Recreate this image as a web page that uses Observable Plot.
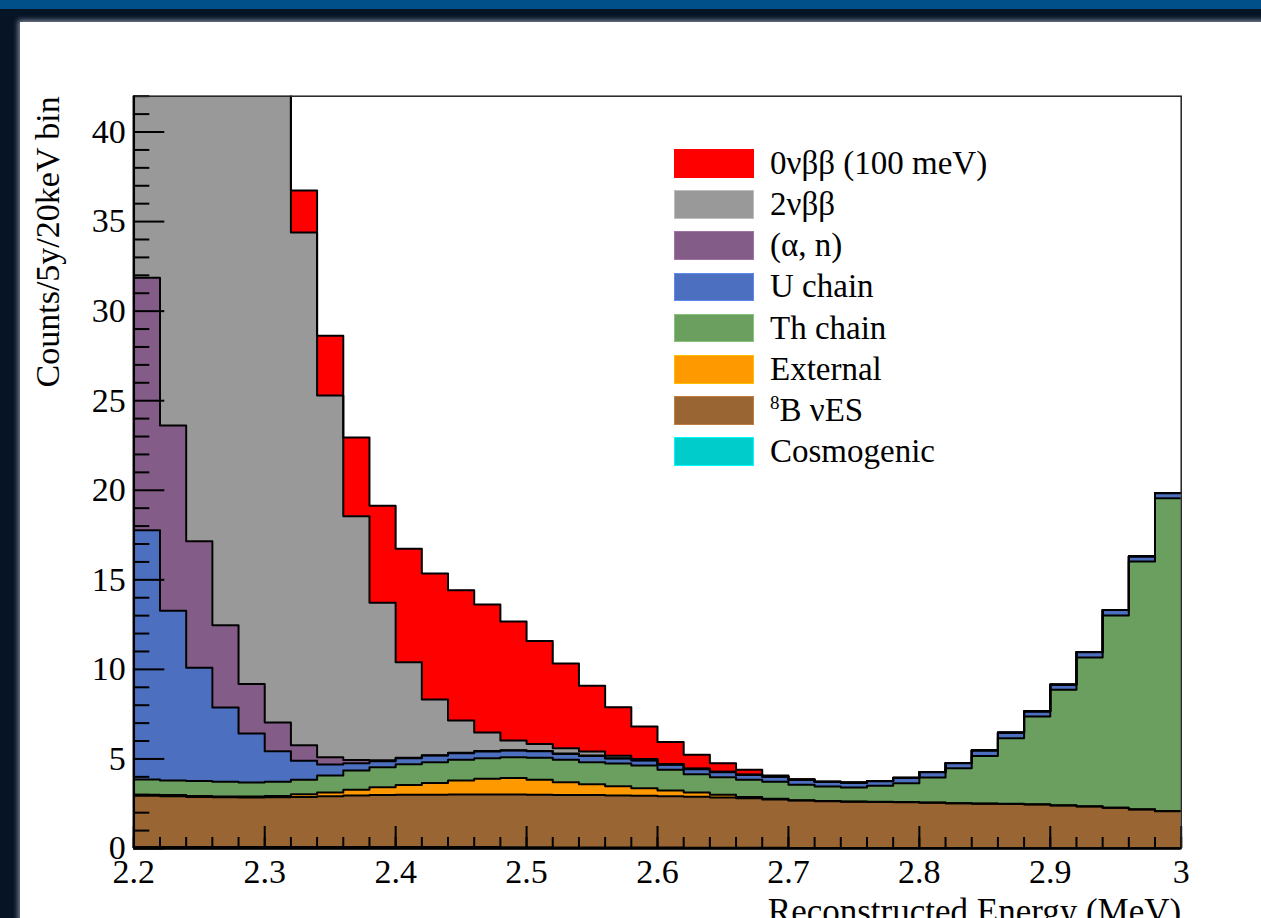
<!DOCTYPE html>
<html>
<head>
<meta charset="utf-8">
<script src="https://cdn.jsdelivr.net/npm/d3@7"></script>
<script src="https://cdn.jsdelivr.net/npm/@observablehq/plot@0.6"></script>
<style>
html, body { margin: 0; padding: 0; width: 1261px; height: 918px; overflow: hidden; background: #071426; }
#topbar { position: absolute; left: 0; top: 0; width: 1261px; height: 9px; background: #01508a; }
#panel { position: absolute; left: 20px; top: 22px; width: 1262px; height: 920px; background: #ffffff; box-shadow: 0 0 5px 2px rgba(170,180,195,0.7); }
#chart { position: absolute; left: 0; top: 0; }
#legend { position: absolute; left: 674px; top: 142.7px; font-family: "Liberation Serif", serif; font-size: 33px; color: #000; }
.row { display: flex; align-items: center; height: 41.2px; white-space: nowrap; }
.sw { width: 80px; height: 28.7px; margin-right: 16px; box-sizing: border-box; }
.sup { font-size: 19px; position: relative; top: -12px; }
</style>
</head>
<body>
<div id="topbar"></div>
<div id="panel"></div>
<div id="chart"></div>
<div id="legend"></div>
<script>
// ---- categories / series ----
const series = ["Cosmogenic", "8B νES", "External", "Th chain", "U chain", "(α, n)", "2νββ", "0νββ (100 meV)"];
const colors = ["#00cccc", "#996633", "#ff9900", "#6b9f5f", "#4d6fc0", "#835c88", "#999999", "#ff0000"];
const legendOrder = ["0νββ (100 meV)", "2νββ", "(α, n)", "U chain", "Th chain", "External", "8B νES", "Cosmogenic"];

// ---- binning: 40 bins of 20 keV from 2.2 to 3.0 MeV ----
const binLow = 2.2, binWidth = 0.02, nBins = 40;

// ---- series values (counts / 5y / 20 keV bin) ----
const cosmogenic = [0.08,0.08,0.08,0.08,0.08,0.08,0.08,0.08,0.08,0.08,
                    0.08,0.08,0.08,0.08,0.07,0.07,0.06,0.06,0.05,0.05,
                    0.05,0.04,0.04,0.04,0.04,0.03,0.03,0.03,0.03,0.03,
                    0.03,0.03,0.02,0.02,0.02,0.02,0.02,0.02,0.02,0.02];
const b8nues = [2.87,2.84,2.80,2.78,2.77,2.78,2.80,2.84,2.88,2.90,
                2.92,2.92,2.93,2.93,2.94,2.93,2.93,2.92,2.91,2.89,
                2.87,2.85,2.81,2.76,2.70,2.65,2.61,2.58,2.57,2.55,
                2.53,2.49,2.48,2.47,2.44,2.38,2.33,2.25,2.16,2.06];
const external = [0.05,0.06,0.05,0.05,0.05,0.07,0.15,0.21,0.32,0.44,
                  0.55,0.66,0.79,0.89,0.92,0.84,0.71,0.61,0.51,0.42,
                  0.32,0.24,0.15,0.07,0.04,0.02,0.01,0.01,0.01,0.01,
                  0.01,0.01,0.01,0.01,0.01,0.01,0.01,0.01,0.01,0.01];
const thChain = [0.85,0.82,0.84,0.81,0.78,0.79,0.81,0.95,1.07,1.12,
                 1.15,1.16,1.15,1.14,1.17,1.22,1.25,1.23,1.27,1.27,
                 1.15,1.02,0.98,0.97,0.94,0.86,0.81,0.78,0.89,1.05,
                 1.39,1.95,2.66,3.66,4.90,6.45,8.31,10.73,13.83,17.47];
const uChain = [13.92,9.47,6.32,4.15,2.74,1.71,1.06,0.61,0.41,0.33,
                0.34,0.37,0.37,0.38,0.37,0.37,0.33,0.35,0.28,0.28,
                0.28,0.28,0.28,0.26,0.28,0.27,0.26,0.27,0.26,0.30,
                0.30,0.28,0.30,0.30,0.28,0.28,0.29,0.30,0.28,0.28];
const alphaN = [14.09,10.35,7.07,4.60,2.77,1.60,0.86,0.40,0.18,0.06,
                0.03,0.02,0.02,0.02,0.02,0.02,0.02,0.02,0.02,0.02,
                0.02,0.02,0.02,0.02,0.02,0.02,0.01,0.01,0.01,0.01,
                0.01,0.01,0.01,0.01,0.01,0.01,0.01,0.01,0.01,0.01];
const twoNu = [140,115,92,72,55,40,28.63,20.20,13.61,8.79,
               5.33,3.11,1.81,1.04,0.54,0.39,0.30,0.23,0.14,0.06,
               0.03,0.02,0.01,0.01,0,0,0,0,0,0,
               0,0,0,0,0,0,0,0,0,0];
const zeroNu = [0.10,0.20,0.35,0.60,1.00,1.60,2.35,3.34,4.40,5.41,
                6.33,7.03,7.27,7.14,6.64,5.74,4.73,3.66,2.71,1.82,
                1.22,0.76,0.47,0.26,0.06,0.01,0,0,0,0,
                0,0,0,0,0,0,0,0,0,0];
const seriesValues = [cosmogenic, b8nues, external, thChain, uChain, alphaN, twoNu, zeroNu];

// ---- axes / tick labels ----
const xDomain = [2.2, 3.0];
const yDomain = [0, 42];
const xMajor = [2.2, 2.3, 2.4, 2.5, 2.6, 2.7, 2.8, 2.9, 3.0];
const xTickLabels = ["2.2", "2.3", "2.4", "2.5", "2.6", "2.7", "2.8", "2.9", "3"];
const xMinor = [2.2,2.22,2.24,2.26,2.28,2.3,2.32,2.34,2.36,2.38,2.4,2.42,2.44,2.46,2.48,2.5,2.52,2.54,2.56,2.58,
                2.6,2.62,2.64,2.66,2.68,2.7,2.72,2.74,2.76,2.78,2.8,2.82,2.84,2.86,2.88,2.9,2.92,2.94,2.96,2.98,3.0];
const yMajor = [0, 5, 10, 15, 20, 25, 30, 35, 40];
const yTickLabels = ["0", "5", "10", "15", "20", "25", "30", "35", "40"];
const yMinor = [1,2,3,4,6,7,8,9,11,12,13,14,16,17,18,19,21,22,23,24,26,27,28,29,31,32,33,34,36,37,38,39,41,42];
const xLabel = "Reconstructed Energy (MeV)";
const yLabel = "Counts/5y/20keV bin";

// ---- table for the step histograms ----
const edges = d3.range(nBins + 1).map(i => +(binLow + i * binWidth).toFixed(4));
const rows = [];
series.forEach((s, k) => {
  const v = seriesValues[k];
  for (let i = 0; i < nBins; i++) rows.push({series: s, x: edges[i], value: v[i]});
  rows.push({series: s, x: edges[nBins], value: v[nBins - 1]});
});

// layout constants (pixels)
const W = 1261, H = 940;
const mL = 133.3, mR = 80.3, mT = 95.7, mB = 92;
const plotW = W - mL - mR, plotH = H - mT - mB;
const serif = "Liberation Serif";

const chart = Plot.plot({
  width: W, height: H,
  marginLeft: mL, marginRight: mR, marginTop: mT, marginBottom: mB,
  style: {fontFamily: serif, fontSize: "34px", background: "transparent", color: "black", overflow: "visible"},
  x: {domain: xDomain, axis: null},
  y: {domain: yDomain, axis: null},
  color: {domain: series, range: colors},
  marks: [
    Plot.areaY(rows, {x: "x", y: "value", z: "series", fill: "series", order: series, curve: "step-after", clip: true}),
    Plot.lineY(rows, Plot.stackY2({x: "x", y: "value", z: "series", order: series, curve: "step-after",
      stroke: "black", strokeWidth: 2, clip: true})),
    Plot.tickY(yMinor, {y: d => d, insetRight: plotW - 16, stroke: "black", strokeWidth: 2}),
    Plot.tickY(yMajor, {y: d => d, insetRight: plotW - 31, stroke: "black", strokeWidth: 2}),
    Plot.tickX(xMinor, {x: d => d, insetTop: plotH - 11, stroke: "black", strokeWidth: 2}),
    Plot.tickX(xMajor, {x: d => d, insetTop: plotH - 22, stroke: "black", strokeWidth: 2}),
    Plot.frame({stroke: "#222", strokeWidth: 1.5}),
    Plot.ruleX([xDomain[0]], {stroke: "black", strokeWidth: 2.5}),
    Plot.ruleY([yDomain[0]], {stroke: "black", strokeWidth: 2.5}),
    // tick labels
    Plot.text(xMajor, {x: d => d, frameAnchor: "bottom", text: (d, i) => xTickLabels[i], lineAnchor: "top",
      dy: 10, fontSize: 34, fontFamily: serif, fill: "black"}),
    Plot.text(yMajor, {y: d => d, frameAnchor: "left", text: (d, i) => yTickLabels[i], textAnchor: "end",
      lineAnchor: "middle", dx: -8, fontSize: 34, fontFamily: serif, fill: "black"}),
    // axis titles
    Plot.text([yLabel], {text: d => d, frameAnchor: "top-left", rotate: -90, textAnchor: "end", lineAnchor: "middle",
      dx: -85.5, fontSize: 34, fontFamily: serif, fill: "black"}),
    Plot.text([xLabel], {text: d => d, frameAnchor: "bottom-right", textAnchor: "end", lineAnchor: "middle",
      dy: 62.8, fontSize: 35, fontFamily: serif, fill: "black"})
  ]
});
document.getElementById("chart").appendChild(chart);

// ---- legend ----
const legend = document.getElementById("legend");
legendOrder.forEach(name => {
  const row = document.createElement("div");
  row.className = "row";
  const sw = document.createElement("div");
  sw.className = "sw";
  const c = colors[series.indexOf(name)];
  sw.style.background = c;
  sw.style.border = "1px solid " + d3.color(c).brighter(0.6).formatHex();
  const label = document.createElement("span");
  if (name === "8B νES") {
    label.innerHTML = '<span class="sup">8</span>B νES';
  } else {
    label.textContent = name;
  }
  row.appendChild(sw);
  row.appendChild(label);
  legend.appendChild(row);
});
</script>
</body>
</html>
